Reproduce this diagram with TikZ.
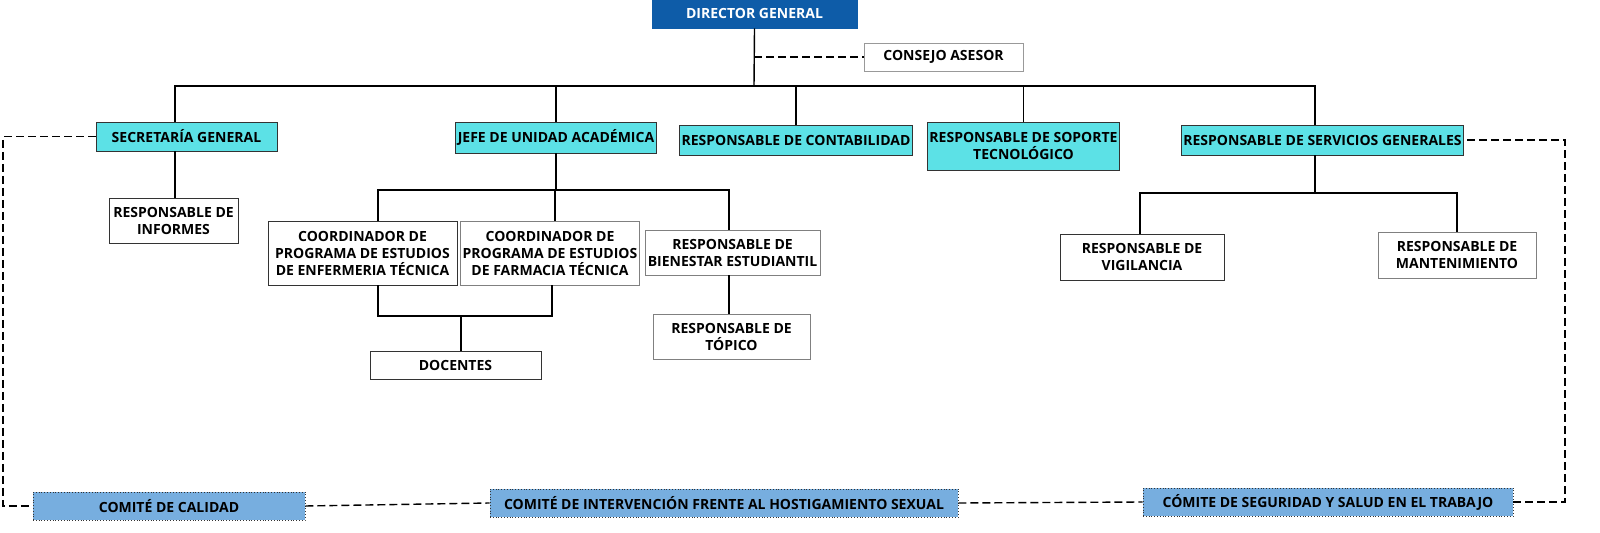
\documentclass[tikz,border=0pt]{standalone}
\usepackage{fontspec}
\setmainfont{Open Sans}
\usetikzlibrary{positioning, calc}
\definecolor{dirblue}{HTML}{0E5CA8}
\definecolor{unitcyan}{HTML}{5CE1E6}
\definecolor{comblue}{HTML}{77AEDF}
\tikzset{
    box/.style={draw=black!80, fill=white, inner sep=1pt, align=center,
        font=\fontsize{7}{8.5}\selectfont\bfseries},
    unit/.style={box, fill=unitcyan},
    comite/.style={box, fill=comblue, densely dotted},
    link/.style={line width=0.7pt},
    dlink/.style={line width=0.7pt, dashed, dash pattern=on 4pt off 2pt}
}
\begin{document}
\begin{tikzpicture}[x=0.5pt, y=-0.5pt]
    \useasboundingbox (0,0) rectangle (1600,533);
    % Top level
    \node[box, fill=dirblue, draw=dirblue, text=white, minimum width=102.5pt, minimum height=14pt] (dir) at (754.5,14) {DIRECTOR GENERAL};
    \node[box, draw=black!40, minimum width=79.5pt, minimum height=14pt] (consejo) at (943.5,57) {CONSEJO ASESOR};
    % Units
    \node[unit, minimum width=90.5pt, minimum height=14.5pt] (secre) at (186.5,136.5) {SECRETARÍA GENERAL};
    \node[unit, minimum width=96pt, minimum height=15.5pt] (jefe) at (556,137.5) {JEFE DE UNIDAD ACADÉMICA};
    \node[unit, minimum width=112pt, minimum height=15pt] (conta) at (796,140) {RESPONSABLE DE CONTABILIDAD};
    \node[unit, minimum width=92.5pt, minimum height=24pt] (soporte) at (1023.5,146) {RESPONSABLE DE SOPORTE\\TECNOLÓGICO};
    \node[unit, minimum width=134.5pt, minimum height=15pt] (servi) at (1322.5,140) {RESPONSABLE DE SERVICIOS GENERALES};
    % Staff
    \node[box, minimum width=64.5pt, minimum height=22.5pt] (informes) at (173.5,220.5) {RESPONSABLE DE\\INFORMES};
    \node[box, minimum width=94.5pt, minimum height=32pt] (enfer) at (362.5,253) {COORDINADOR DE\\PROGRAMA DE ESTUDIOS\\DE ENFERMERIA TÉCNICA};
    \node[box, draw=black!50, minimum width=85pt, minimum height=32pt] (farma) at (550,253) {COORDINADOR DE\\PROGRAMA DE ESTUDIOS\\DE FARMACIA TÉCNICA};
    \node[box, draw=black!50, minimum width=87.5pt, minimum height=22.5pt] (bienestar) at (732.5,252.5) {RESPONSABLE DE\\BIENESTAR ESTUDIANTIL};
    \node[box, draw=black!50, minimum width=78.5pt, minimum height=22.5pt] (topico) at (731.5,336.5) {RESPONSABLE DE\\TÓPICO};
    \node[box, minimum width=85.5pt, minimum height=14pt] (docentes) at (455.5,365) {DOCENTES};
    \node[box, minimum width=82pt, minimum height=23pt] (vigil) at (1142,257) {RESPONSABLE DE\\VIGILANCIA};
    \node[box, draw=black!50, minimum width=79pt, minimum height=23pt] (mante) at (1457,255) {RESPONSABLE DE\\MANTENIMIENTO};
    % Committees
    \node[comite, minimum width=136pt, minimum height=14pt] (calidad) at (169,506) {COMITÉ DE CALIDAD};
    \node[comite, minimum width=234pt, minimum height=14pt] (hostiga) at (724,503) {COMITÉ DE INTERVENCIÓN FRENTE AL HOSTIGAMIENTO SEXUAL};
    \node[comite, minimum width=185pt, minimum height=14pt] (segur) at (1328,502) {CÓMITE DE SEGURIDAD Y SALUD EN EL TRABAJO};
    \coordinate (bus) at (754,86);
    \coordinate (asesor) at (754,57);

    % Solid connectors
    \draw[link] (dir.south) -- (bus);
    \draw[link] (secre.north -| 175,0) |- (bus) -| (servi.north -| 1315,0);
    \foreach \n in {jefe, conta, soporte} {
        \draw[link] (bus) -| (\n.north);
    }
    \draw[link] (informes.north -| 175,0) -- (secre.south -| 175,0);
    \draw[link] (jefe.south) |- (555,190) -| (enfer.north -| 378,0);
    \draw[link] (555,190) -| (bienestar.north -| 729,0);
    \draw[link] (555,190) -- (farma.north -| 555,0);
    \draw[link] (enfer.south -| 378,0) |- (461,316) -| (farma.south -| 552,0);
    \draw[link] (461,316) -- (docentes.north -| 461,0);
    \draw[link] (bienestar.south -| 729,0) -- (topico.north -| 729,0);
    \draw[link] (servi.south -| 1315,0) |- (1140,193) -- (vigil.north -| 1140,0);
    \draw[link] (1315,193) -| (mante.north);

    % Dashed connectors
    \draw[dlink] (asesor) -- (consejo.west);
    \draw[dlink] (secre.west) -| (3,506) -- (calidad.west);
    \draw[dlink] (calidad.east) -- (hostiga.west);
    \draw[dlink] (hostiga.east) -- (segur.west);
    \draw[dlink] (segur.east) -| (1565,140) -- (servi.east);
\end{tikzpicture}
\end{document}
